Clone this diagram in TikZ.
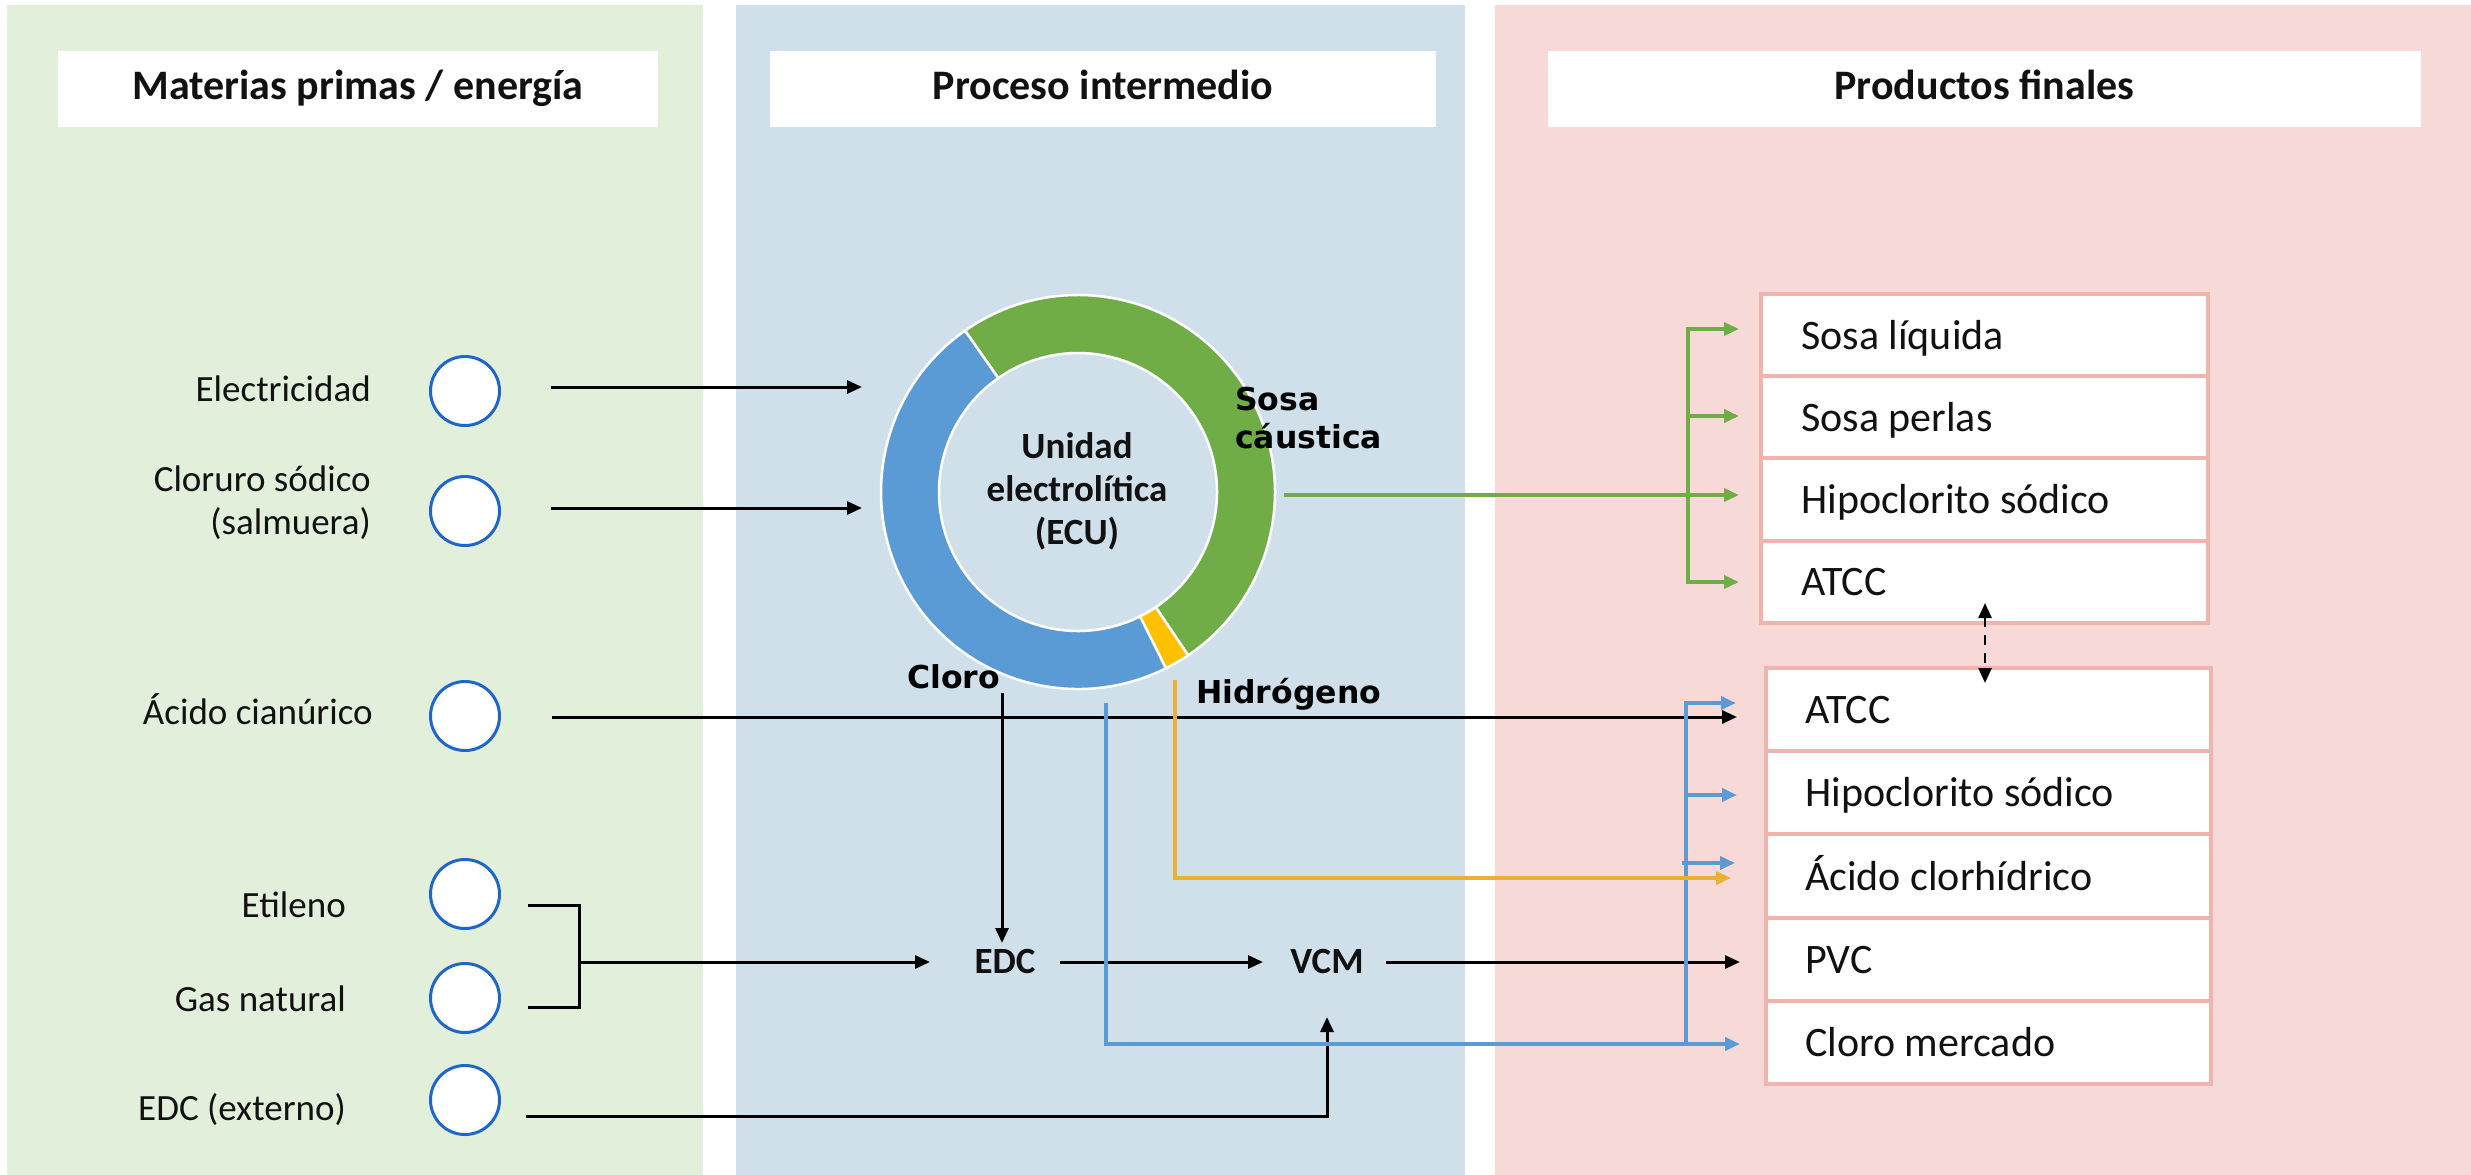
\documentclass[tikz,border=0pt]{standalone}
\usepackage{fontspec}
\setmainfont{Carlito}
\newfontfamily\djv{DejaVu Sans}
\usetikzlibrary{arrows.meta,calc}
\definecolor{pgreen}{HTML}{E2EFDA}
\definecolor{pblue}{HTML}{CFE0EA}
\definecolor{ppink}{HTML}{F7DAD7}
\definecolor{cgreen}{HTML}{70AD47}
\definecolor{cblue}{HTML}{5B9BD5}
\definecolor{cyellow}{HTML}{FFC000}
\definecolor{corange}{HTML}{EDAF2F}
\definecolor{cborder}{HTML}{F0B4AC}
\definecolor{ccircle}{HTML}{1F66CC}
\definecolor{ctext}{HTML}{111111}
\begin{document}
\begin{tikzpicture}[x=1pt,y=-1pt,
  hdr/.style={fill=white, inner sep=0pt, text=ctext, font=\bfseries\fontsize{42}{50}\selectfont, text height=30pt, text depth=10pt},
  lbl/.style={inner sep=0pt, text=ctext, font=\fontsize{37}{44}\selectfont},
  inp/.style={circle, draw=ccircle, fill=white, line width=3pt, minimum size=69pt, inner sep=0pt},
  midlab/.style={inner sep=0pt, text=ctext, font=\bfseries\fontsize{37}{43}\selectfont},
  streamlab/.style={inner sep=0pt, text=black, font=\djv\bfseries\fontsize{31.5}{38}\selectfont},
  prow/.style={draw=cborder, fill=white, line width=4pt, inner sep=0pt},
  ptxt/.style={inner sep=0pt, text=ctext, font=\fontsize{42}{50}\selectfont},
  tipa/.style={-{Triangle[length=15pt,width=13pt]}},
  blk/.style={tipa, line width=3pt, draw=black},
  bln/.style={tipa, line width=4pt, draw=cblue},
  grn/.style={tipa, line width=3.5pt, draw=cgreen},
  org/.style={tipa, line width=4pt, draw=corange},
  seg/.style={draw=white, line width=2.5pt}]
\useasboundingbox (0,0) rectangle (2471,1175);
% panels
\fill[pgreen] (7,5) rectangle (703,1175);
\fill[pblue] (736,5) rectangle (1465,1175);
\fill[ppink] (1495,5) rectangle (2471,1175);
% headers
\node[hdr, minimum width=600pt, minimum height=76pt] (h1) at (358,89) {Materias primas / energía};
\node[hdr, minimum width=666pt, minimum height=76pt] (h2) at (1103,89) {Proceso intermedio};
\node[hdr, minimum width=873pt, minimum height=76pt] (h3) at (1984.5,89) {Productos finales};
% inputs
\node[inp] (c1) at (465,391) {};
\node[inp] (c2) at (465,511) {};
\node[inp] (c3) at (465,716) {};
\node[inp] (c4) at (465,894) {};
\node[inp] (c5) at (465,998) {};
\node[inp] (c6) at (465,1100) {};
\node[lbl, anchor=base east] (l1) at (371,401) {Electricidad};
\node[lbl, anchor=base east] (l2a) at (371,491) {Cloruro sódico};
\node[lbl, anchor=base east] (l2b) at (371,534) {(salmuera)};
\node[lbl, anchor=base east] (l3) at (373,724) {Ácido cianúrico};
\node[lbl, anchor=base east] (l4) at (346,917) {Etileno};
\node[lbl, anchor=base east] (l5) at (346,1011) {Gas natural};
\node[lbl, anchor=base east] (l6) at (346,1120) {EDC (externo)};
% donut
\coordinate (ecu) at (1078,492);
\filldraw[fill=cgreen, seg] ($(ecu)+(-125:197)$) arc[start angle=-125, end angle=56, radius=197] -- ($(ecu)+(56:139)$) arc[start angle=56, end angle=-125, radius=139] -- cycle;
\filldraw[fill=cyellow, seg] ($(ecu)+(56:197)$) arc[start angle=56, end angle=63.5, radius=197] -- ($(ecu)+(63.5:139)$) arc[start angle=63.5, end angle=56, radius=139] -- cycle;
\filldraw[fill=cblue, seg] ($(ecu)+(63.5:197)$) arc[start angle=63.5, end angle=235, radius=197] -- ($(ecu)+(235:139)$) arc[start angle=235, end angle=63.5, radius=139] -- cycle;
\node[midlab, align=center] (ecuL) at (1077,491) {Unidad\\electrolítica\\(ECU)};
\node[streamlab, anchor=base west] (sosa1) at (1235,410) {Sosa};
\node[streamlab, anchor=base west] (sosa2) at (1235,448) {cáustica};
\node[streamlab, anchor=base west] (cloro) at (907,688) {Cloro};
\node[streamlab, anchor=base west] (hidro) at (1196,703) {Hidrógeno};
\node[midlab, anchor=base] (edc) at (1005,973) {EDC};
\node[midlab, anchor=base] (vcm) at (1327,973) {VCM};
% product boxes
\foreach \i/\y/\t in {1/335.1/Sosa líquida, 2/417.4/Sosa perlas, 3/499.6/Hipoclorito sódico, 4/581.9/ATCC}{
  \node[prow, minimum width=447pt, minimum height=82.25pt] (a\i) at (1984.5,\y) {};
  \node[ptxt, anchor=base west] (at\i) at (1801,\y+14) {\t};
}
\foreach \i/\y/\t in {1/709.6/ATCC, 2/792.8/Hipoclorito sódico, 3/876/Ácido clorhídrico, 4/959.2/PVC, 5/1042.4/Cloro mercado}{
  \node[prow, minimum width=445pt, minimum height=83.2pt] (b\i) at (1988.5,\y) {};
  \node[ptxt, anchor=base west] (bt\i) at (1805,\y+14) {\t};
}
% coordinates
\coordinate (e1s) at (551,387); \coordinate (e1t) at (862,387);
\coordinate (e2s) at (551,508); \coordinate (e2t) at (862,508);
\coordinate (acs) at (552,717); \coordinate (act) at (1737,717);
\coordinate (bra) at (528,905); \coordinate (brb) at (528,1007); \coordinate (brm) at (579,962); \coordinate (brt) at (930,962);
\coordinate (exs) at (526,1116); \coordinate (ext) at (1327,1017);
\coordinate (cls) at (1002,693); \coordinate (clt) at (1002,943);
\coordinate (evs) at (1060,962); \coordinate (evt) at (1263,962);
\coordinate (vps) at (1386,962); \coordinate (vpt) at (1740,962);
\coordinate (bls) at (1106,703); \coordinate (blt) at (1740,1044);
\coordinate (bbus) at (1686,1044); \coordinate (btop) at (1686,703);
\coordinate (hs) at (1175,680); \coordinate (ht) at (1731,878);
\coordinate (gs) at (1284,495); \coordinate (gt) at (1739,495);
\coordinate (gb1) at (1688,329); \coordinate (gb4) at (1688,582);
\coordinate (dd1) at (1985,603); \coordinate (dd2) at (1985,683);
% black connectors
\draw[blk] (e1s) -- (e1t);
\draw[blk] (e2s) -- (e2t);
\draw[blk] (acs) -- (act);
\draw[line width=3pt] (bra) -| (brm) |- (brb);
\draw[blk] (brm) -- (brt);
\draw[blk] (exs) -| (ext);
\draw[blk] (cls) -- (clt);
\draw[blk] (evs) -- (evt);
\draw[blk] (vps) -- (vpt);
% blue
\draw[bln] (bls) |- (blt);
\draw[line width=4pt, draw=cblue] (bbus) -- (btop);
\draw[bln] (1684,703) -- (1736,703);
\draw[bln] (1684,795) -- (1737,795);
\draw[bln] (1682,863) -- (1735,863);
% orange
\draw[org] (hs) |- (ht);
% green
\draw[grn] (gs) -- (gt);
\draw[line width=3.5pt, draw=cgreen] (gb1) -- (gb4);
\foreach \y in {329,416,582}{ \draw[grn] (1686.25,\y) -- (1739,\y); }
% dashed double arrow
\draw[{Triangle[length=15pt,width=13pt]}-{Triangle[length=15pt,width=13pt]}, line width=2.5pt, dash pattern=on 10pt off 8pt] (dd1) -- (dd2);
\end{tikzpicture}
\end{document}
